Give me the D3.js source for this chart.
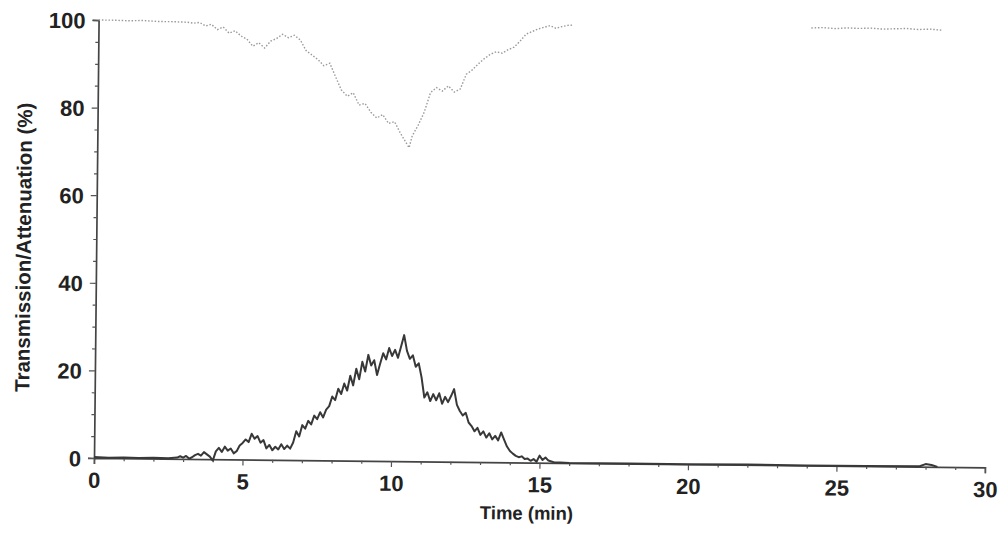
<!DOCTYPE html>
<html><head><meta charset="utf-8">
<script src="https://cdn.jsdelivr.net/npm/d3@7/dist/d3.min.js"></script>
<style>body{margin:0;background:#fff}svg{display:block}text{font-family:"Liberation Sans",Arial,sans-serif;font-weight:bold;fill:#222}</style>
</head><body><svg id="c" width="1003" height="535"></svg>
<script>
// Transmission (%) — light dotted trace
const transTime = [0,0.5,1,1.5,2,2.5,3,3.2,3.4,3.6,3.8,4.0,4.2,4.4,4.6,4.8,5.0,5.2,5.4,5.6,5.8,6.0,6.2,6.4,6.6,6.8,7.0,7.2,7.4,7.6,7.8,8.0,8.2,8.4,8.6,8.8,9.0,9.2,9.4,9.6,9.8,10.0,10.2,10.4,10.5,10.6,10.8,11.0,11.2,11.4,11.6,11.8,12.0,12.2,12.4,12.6,12.8,13.0,13.2,13.4,13.6,13.8,14.0,14.2,14.4,14.6,14.8,15.0,15.2,15.4,15.6,15.8,16.0,16.1,
  24.0,24.4,24.8,25.2,25.6,26.0,26.4,26.8,27.2,27.6,28.0,28.4];
const transValue = [100,100,99.9,100,99.8,99.8,99.7,99.5,99.7,98.9,99.3,98.1,98.7,97.3,97.9,96.7,96.0,94.4,95.2,94.0,95.6,96.2,97.2,96.4,97.0,95.9,93.5,92.5,91.5,90.1,90.7,87.6,84.6,83.2,84.0,81.2,81.6,79.6,78.3,79.1,77.1,77.5,74.9,72.7,71.6,74.3,76.8,79.8,84.2,85.4,84.6,85.8,84.4,85.1,88.5,89.5,90.9,92.1,93.1,93.7,93.4,94.2,94.8,96.2,97.8,98.4,99.0,99.4,99.8,99.2,99.6,99.9,100,null,
  99.9,100,99.8,100,99.9,100,99.8,99.9,100,99.8,99.9,99.7];

// Attenuation (%) — dark trace
const attenTime = [0,0.5,1.0,1.5,2.0,2.5,2.8,2.9,3.0,3.1,3.2,3.3,3.4,3.5,3.6,3.7,3.8,3.9,4.0,4.1,4.2,4.3,4.4,4.5,4.6,4.7,4.8,4.9,5.0,5.1,5.2,5.3,5.4,5.5,5.6,5.7,5.8,5.9,6.0,6.1,6.2,6.3,6.4,6.5,6.6,6.7,6.8,6.9,7.0,7.1,7.2,7.3,7.4,7.5,7.6,7.7,7.8,7.9,8.0,8.1,8.2,8.3,8.4,8.5,8.6,8.7,8.8,8.9,9.0,9.1,9.2,9.3,9.4,9.5,9.6,9.7,9.8,9.9,10.0,10.1,10.2,10.3,10.4,10.5,10.6,10.7,10.8,10.9,11.0,11.1,11.2,11.3,11.4,11.5,11.6,11.7,11.8,11.9,12.0,12.1,12.2,12.3,12.4,12.5,12.6,12.7,12.8,12.9,13.0,13.1,13.2,13.3,13.4,13.5,13.6,13.7,13.8,13.9,14.0,14.1,14.2,14.3,14.4,14.5,14.6,14.7,14.8,14.9,15.0,15.1,15.2,15.3,15.4,15.5,15.7,16.0,18.0,20.0,22.0,24.0,26.0,27.8,28.0,28.2,28.4];
const attenValue = [0.2,0.1,0.2,0.1,0.2,0.1,0.3,0.6,0.3,0.7,0.1,0.4,0.9,1.2,0.8,1.6,1.1,0.6,-0.3,1.8,2.6,1.7,2.9,2.0,2.5,1.4,1.9,3.2,3.8,4.6,4.0,5.9,4.8,5.4,3.9,4.5,2.6,3.4,2.2,3.0,2.4,3.6,2.5,3.3,2.6,4.0,6.6,5.4,8.0,7.2,9.0,8.2,10.2,9.4,11.0,9.8,11.6,12.4,14.6,13.8,16.4,15.2,17.6,16.0,19.4,17.2,21.0,18.6,22.6,20.4,24.2,21.8,23.0,19.6,22.2,24.6,23.2,25.8,24.0,25.4,23.6,26.2,28.8,25.2,23.4,24.2,21.6,22.4,19.2,14.6,15.8,13.8,15.4,14.0,15.6,13.2,14.8,13.6,15.0,16.6,13.0,11.6,10.6,11.2,9.0,8.2,7.0,7.8,6.2,7.0,5.6,6.6,5.2,6.0,5.0,6.8,5.2,3.6,2.6,2.0,1.5,1.2,1.4,0.8,0.9,0.4,0.8,0.2,1.6,0.6,1.2,0.5,0.3,0.1,0.1,0.0,0.0,0.0,0.05,0.0,0.0,0.1,0.6,0.4,0.0];

const xMajor = [0,5,10,15,20,25,30];
const yMajor = [0,20,40,60,80,100];

const svg = d3.select('#c');
const x = d3.scaleLinear().domain([0,30]).range([94,985]);
const y = d3.scaleLinear().domain([0,100]).range([458,20]);

// the scanned figure is tilted slightly clockwise
const g = svg.append('g').attr('transform','rotate(0.6,94,458)');

// axes
const xAxis = g.append('g').attr('transform','translate(0,458)')
  .call(d3.axisBottom(x).tickValues(xMajor).tickSize(6).tickPadding(8).tickFormat(d3.format('d')));
g.append('g').attr('transform','translate(0,458)')
  .call(d3.axisBottom(x).tickValues(d3.range(0,31).filter(d=>d%5)).tickSize(3).tickFormat(''))
  .call(s=>s.select('.domain').remove());
const yAxis = g.append('g').attr('transform','translate(94,0)')
  .call(d3.axisLeft(y).tickValues(yMajor).tickSize(6).tickPadding(7));
g.append('g').attr('transform','translate(94,0)')
  .call(d3.axisLeft(y).tickValues(d3.range(0,101,5).filter(d=>d%20)).tickSize(3).tickFormat(''))
  .call(s=>s.select('.domain').remove());

g.selectAll('.domain').attr('stroke','#444').attr('stroke-width',1.7);
g.selectAll('.tick line').attr('stroke','#555').attr('stroke-width',1.2);
g.selectAll('.tick text').style('font-family','"Liberation Sans",Arial,sans-serif')
  .style('font-weight','bold').style('font-size','22px').attr('fill','#222');
xAxis.selectAll('.tick text').attr('dy','0.72em');
yAxis.selectAll('.tick text').attr('dy','0.36em');

// lines
const transData = transTime.map((t,i)=>({t, v: transValue[i]}));
const attenData = attenTime.map((t,i)=>({t, v: attenValue[i]}));

g.append('path').datum(transData)
  .attr('fill','none').attr('stroke','#9a9a9a').attr('stroke-width',1.4)
  .attr('stroke-dasharray','1.5,1.8')
  .attr('d', d3.line().defined(d=>d.v!==null).x(d=>x(d.t)).y(d=>y(d.v)));

g.append('path').datum(attenData)
  .attr('fill','none').attr('stroke','#383838').attr('stroke-width',2).attr('stroke-linejoin','round')
  .attr('d', d3.line().x(d=>x(d.t)).y(d=>y(d.v)));

// titles
g.append('text').attr('x',527).attr('y',515).attr('text-anchor','middle')
  .style('font-size','18.5px').text('Time (min)');
g.append('text').attr('transform','translate(28.5,248) rotate(-90)').attr('text-anchor','middle')
  .style('font-size','20.5px').text('Transmission/Attenuation (%)');
</script></body></html>
